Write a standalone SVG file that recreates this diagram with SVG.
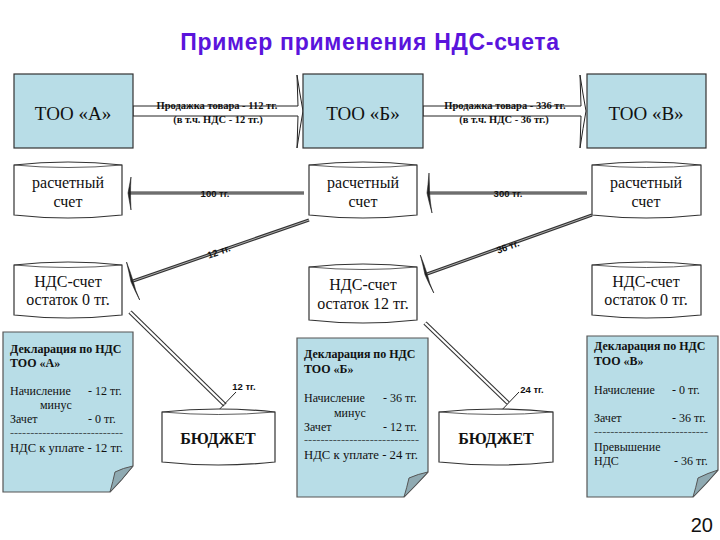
<svg xmlns="http://www.w3.org/2000/svg" width="720" height="540" viewBox="0 0 720 540">
<style>
.box{fill:#B8DDE7;stroke:#333;stroke-width:1.2}
.cyl{fill:#fff;stroke:#333;stroke-width:1.2}
.cyli{fill:none;stroke:#333;stroke-width:0.8}
.doc{fill:#B8DDE7;stroke:#555;stroke-width:1.2}
.fold{fill:#8FAAB2;stroke:#555;stroke-width:1}
.t19{font-family:"Liberation Serif","Times New Roman",serif;font-size:19px;fill:#111;text-anchor:middle}
.t16{font-family:"Liberation Serif","Times New Roman",serif;font-size:16px;fill:#111;text-anchor:middle}
.bud{font-family:"Liberation Serif","Times New Roman",serif;font-size:16px;font-weight:bold;fill:#111;text-anchor:middle}
.d{font-family:"Liberation Serif","Times New Roman",serif;font-size:12px;fill:#111}
.dash{font-family:"Liberation Serif","Times New Roman",serif;font-size:8px;fill:#111}
.db{font-family:"Liberation Serif","Times New Roman",serif;font-size:12px;font-weight:bold;fill:#111}
.al{font-family:"Liberation Serif","Times New Roman",serif;font-size:10.5px;font-weight:bold;fill:#111;text-anchor:middle}
.sl{font-family:"Liberation Sans",Arial,sans-serif;font-size:9.5px;font-weight:bold;fill:#111;text-anchor:middle}
.blk{fill:#fff;stroke:#222;stroke-width:1}
.sh-o{stroke:#333;stroke-width:3.2;fill:none}
.sh-i{stroke:#aaa;stroke-width:1;fill:none}
.db-o{stroke:#333;stroke-width:4.5;fill:none}
.db-i{stroke:#fff;stroke-width:2.3;fill:none}
.hd{fill:#222;stroke:#222;stroke-width:0.6}
.ld{stroke:#222;stroke-width:1;fill:none}
</style>

<text x="370" y="50" font-family="Liberation Sans,Arial,sans-serif" font-size="23" font-weight="bold" letter-spacing="0.7" fill="#5A14DC" text-anchor="middle">Пример применения НДС-счета</text>

<g id="connectors">
  <path class="blk" d="M133,106 L298,106 L297,75 Q300,95 303,111 Q300,128 297,148 L298,116 L133,116 Z"/>
  <text class="al" x="217" y="109">Продажка товара - 112 тг.</text>
  <text class="al" x="218" y="123">(в т.ч. НДС - 12 тг.)</text>
  <path class="blk" d="M423,106 L581,106 L580,75 Q583,95 586,111 Q583,128 580,148 L581,116 L423,116 Z"/>
  <text class="al" x="505" y="109">Продажка товара - 336 тг.</text>
  <text class="al" x="504" y="123">(в т.ч. НДС - 36 тг.)</text>

  <line class="sh-o" x1="304" y1="193" x2="130" y2="193"/>
  <line class="sh-i" x1="304" y1="193" x2="130" y2="193"/>
  <path class="hd" d="M131,177 Q129,188 128,193 Q129,199 131,210 Q130.5,200 130.5,193 Q130.5,186 131,177 Z"/>
  <text class="sl" x="215" y="197">100 тг.</text>

  <line class="sh-o" x1="587" y1="193" x2="429" y2="193"/>
  <line class="sh-i" x1="587" y1="193" x2="429" y2="193"/>
  <path class="hd" d="M429,173 Q428,186 427,193 Q429,202 432,213 Q430,201 429.6,193 Q429.4,183 429,173 Z"/>
  <text class="sl" x="508" y="197">300 тг.</text>

  <line class="sh-o" x1="309" y1="220" x2="133" y2="281"/>
  <line class="sh-i" x1="309" y1="220" x2="133" y2="281"/>
  <path class="hd" d="M126.5,262 Q129,272 131,281.8 Q135,291 139.7,300 Q135,290 133.2,281.2 Q130,271 126.5,262 Z"/>
  <text class="sl" x="219" y="255" transform="rotate(-19 219 252)">12 тг.</text>

  <line class="sh-o" x1="592" y1="215" x2="427" y2="274"/>
  <line class="sh-i" x1="592" y1="215" x2="427" y2="274"/>
  <path class="hd" d="M420.3,255 Q423,265 425,274.8 Q429,284 433.8,293 Q429,283 427.2,274.2 Q424,264 420.3,255 Z"/>
  <text class="sl" x="508" y="250" transform="rotate(-19.7 508 247)">36 тг.</text>

  <line class="db-o" x1="130" y1="312" x2="225" y2="405"/>
  <line class="db-i" x1="130" y1="312" x2="225" y2="405"/>
  <line class="ld" x1="236" y1="392" x2="214" y2="415"/>
  <text class="sl" x="244" y="390">12 тг.</text>

  <line class="db-o" x1="425" y1="323" x2="508" y2="403"/>
  <line class="db-i" x1="425" y1="323" x2="508" y2="403"/>
  <line class="ld" x1="519" y1="392" x2="498" y2="414"/>
  <text class="sl" x="532" y="393">24 тг.</text>
</g>

<g id="too-a">
  <rect class="box" x="14" y="74" width="119" height="74"/>
  <text class="t19" x="73" y="120">ТОО «А»</text>
</g>
<g id="too-b">
  <rect class="box" x="303" y="74" width="120" height="74"/>
  <text class="t19" x="363" y="120">ТОО «Б»</text>
</g>
<g id="too-v">
  <rect class="box" x="587" y="74" width="119" height="74"/>
  <text class="t19" x="646" y="120">ТОО «В»</text>
</g>

<g id="rs-a">
  <path class="cyl" d="M14,165 Q68,159 122,165 L122,215 Q68,221 14,215 Z"/>
  <path class="cyli" d="M14,165 Q68,170 122,165"/>
  <text class="t16" x="68" y="188">расчетный</text>
  <text class="t16" x="68" y="207">счет</text>
</g>
<g id="rs-b">
  <path class="cyl" d="M309,165 Q363,159 417,165 L417,215 Q363,221 309,215 Z"/>
  <path class="cyli" d="M309,165 Q363,170 417,165"/>
  <text class="t16" x="363" y="188">расчетный</text>
  <text class="t16" x="363" y="207">счет</text>
</g>
<g id="rs-v">
  <path class="cyl" d="M592,165 Q646,159 701,165 L701,215 Q646,221 592,215 Z"/>
  <path class="cyli" d="M592,165 Q646,170 701,165"/>
  <text class="t16" x="646" y="188">расчетный</text>
  <text class="t16" x="646" y="207">счет</text>
</g>

<g id="nds-a">
  <path class="cyl" d="M14,265 Q68,259 122,265 L122,315 Q68,321 14,315 Z"/>
  <path class="cyli" d="M14,265 Q68,270 122,265"/>
  <text class="t16" x="68" y="287">НДС-счет</text>
  <text class="t16" x="68" y="305">остаток 0 тг.</text>
</g>
<g id="nds-b">
  <path class="cyl" d="M309,267 Q363,261 417,267 L417,320 Q363,326 309,320 Z"/>
  <path class="cyli" d="M309,267 Q363,272 417,267"/>
  <text class="t16" x="363" y="290">НДС-счет</text>
  <text class="t16" x="363" y="309">остаток 12 тг.</text>
</g>
<g id="nds-v">
  <path class="cyl" d="M592,265 Q646,259 701,265 L701,315 Q646,321 592,315 Z"/>
  <path class="cyli" d="M592,265 Q646,270 701,265"/>
  <text class="t16" x="646" y="287">НДС-счет</text>
  <text class="t16" x="646" y="305">остаток 0 тг.</text>
</g>

<g id="budget-1">
  <path class="cyl" d="M162,412 Q218,406 275,412 L275,462 Q218,468 162,462 Z"/>
  <path class="cyli" d="M162,412 Q218,417 275,412"/>
  <text class="bud" x="218" y="444">БЮДЖЕТ</text>
</g>
<g id="budget-2">
  <path class="cyl" d="M439,412 Q496,406 553,412 L553,462 Q496,468 439,462 Z"/>
  <path class="cyli" d="M439,412 Q496,417 553,412"/>
  <text class="bud" x="496" y="444">БЮДЖЕТ</text>
</g>

<g id="decl-a">
  <path class="doc" d="M3,332 L133,332 L133,466 Q122,480 110,492 L3,492 Z"/>
  <path class="fold" d="M133,466 Q123,468 115,472 Q113,481 110,492 Q122,480 133,466 Z"/>
  <text class="db" x="10" y="353">Декларация по НДС</text>
  <text class="db" x="10" y="367">ТОО «А»</text>
  <text class="d" x="10" y="395">Начисление</text>
  <text class="d" x="88" y="395">- 12 тг.</text>
  <text class="d" x="40" y="409">минус</text>
  <text class="d" x="10" y="423">Зачет</text>
  <text class="d" x="88" y="423">- 0 тг.</text>
  <text class="dash" x="10" y="436" textLength="113" lengthAdjust="spacingAndGlyphs">----------------------------</text>
  <text class="d" x="10" y="452" textLength="113" lengthAdjust="spacingAndGlyphs">НДС к  уплате - 12 тг.</text>
</g>

<g id="decl-b">
  <path class="doc" d="M297,338 L428,338 L428,472 Q416,485 404,497 L297,497 Z"/>
  <path class="fold" d="M428,472 Q418,474 409,478 Q407,487 404,497 Q416,485 428,472 Z"/>
  <text class="db" x="304" y="358">Декларация по НДС</text>
  <text class="db" x="304" y="373">ТОО «Б»</text>
  <text class="d" x="304" y="402">Начисление</text>
  <text class="d" x="383" y="402">- 36 тг.</text>
  <text class="d" x="334" y="417">минус</text>
  <text class="d" x="304" y="431">Зачет</text>
  <text class="d" x="383" y="431">- 12 тг.</text>
  <text class="dash" x="304" y="443" textLength="115" lengthAdjust="spacingAndGlyphs">----------------------------</text>
  <text class="d" x="304" y="459" textLength="114" lengthAdjust="spacingAndGlyphs">НДС к  уплате - 24 тг.</text>
</g>

<g id="decl-v">
  <path class="doc" d="M587,336 L718,336 L718,470 Q706,484 693,497 L587,497 Z"/>
  <path class="fold" d="M718,470 Q708,473 698,478 Q696,487 693,497 Q706,484 718,470 Z"/>
  <text class="db" x="594" y="350">Декларация по НДС</text>
  <text class="db" x="594" y="365">ТОО «В»</text>
  <text class="d" x="594" y="394">Начисление</text>
  <text class="d" x="672" y="394">- 0 тг.</text>
  <text class="d" x="594" y="422">Зачет</text>
  <text class="d" x="672" y="422">- 36 тг.</text>
  <text class="dash" x="594" y="435" textLength="114" lengthAdjust="spacingAndGlyphs">----------------------------</text>
  <text class="d" x="594" y="451">Превышение</text>
  <text class="d" x="594" y="465">НДС</text>
  <text class="d" x="674" y="465">- 36 тг.</text>
</g>

<text x="713" y="532" font-family="Liberation Sans,Arial,sans-serif" font-size="20" fill="#111" text-anchor="end">20</text>
</svg>
